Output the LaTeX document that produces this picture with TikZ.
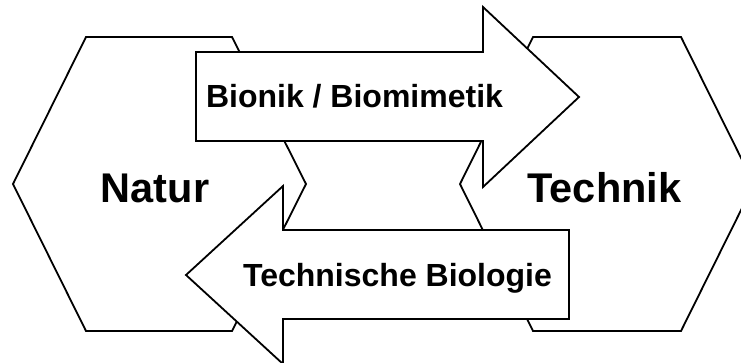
\documentclass[tikz,border=0pt]{standalone}
\usepackage{fontspec}
\setmainfont{Liberation Sans}
\begin{document}
\begin{tikzpicture}[x=1pt,y=-1pt,
  outline/.style={draw=black,fill=white,line width=1.8pt,line join=miter},
  bigtext/.style={anchor=base,inner sep=0pt,font=\bfseries\fontsize{41.5}{48}\selectfont},
  arrowtext/.style={anchor=base,inner sep=0pt,font=\bfseries\fontsize{32}{38}\selectfont}]
  \useasboundingbox (0,0) rectangle (741,362);
  \clip (0,0) rectangle (741,362);
  % Hexagons
  \draw[outline] (86,37) -- (232,37) -- (306,184) -- (232,331) -- (86,331) -- (13,184) -- cycle;
  \draw[outline] (533,37) -- (681,37) -- (754,184) -- (681,331) -- (533,331) -- (460,184) -- cycle;
  % Arrow to the right
  \draw[outline] (196,52) -- (483,52) -- (483,7) -- (579,97) -- (483,187) -- (483,141) -- (196,141) -- cycle;
  % Arrow to the left
  \draw[outline] (569,230) -- (283,230) -- (283,186) -- (186,275) -- (283,364) -- (283,319) -- (569,319) -- cycle;
  % Labels
  \node[bigtext] (natur) at (155,202) {Natur};
  \node[bigtext] (technik) at (604.5,202) {Technik};
  \node[arrowtext] (bionik) at (354.5,107) {Bionik / Biomimetik};
  \node[arrowtext] (techbio) at (397.5,286) {Technische Biologie};
\end{tikzpicture}
\end{document}
